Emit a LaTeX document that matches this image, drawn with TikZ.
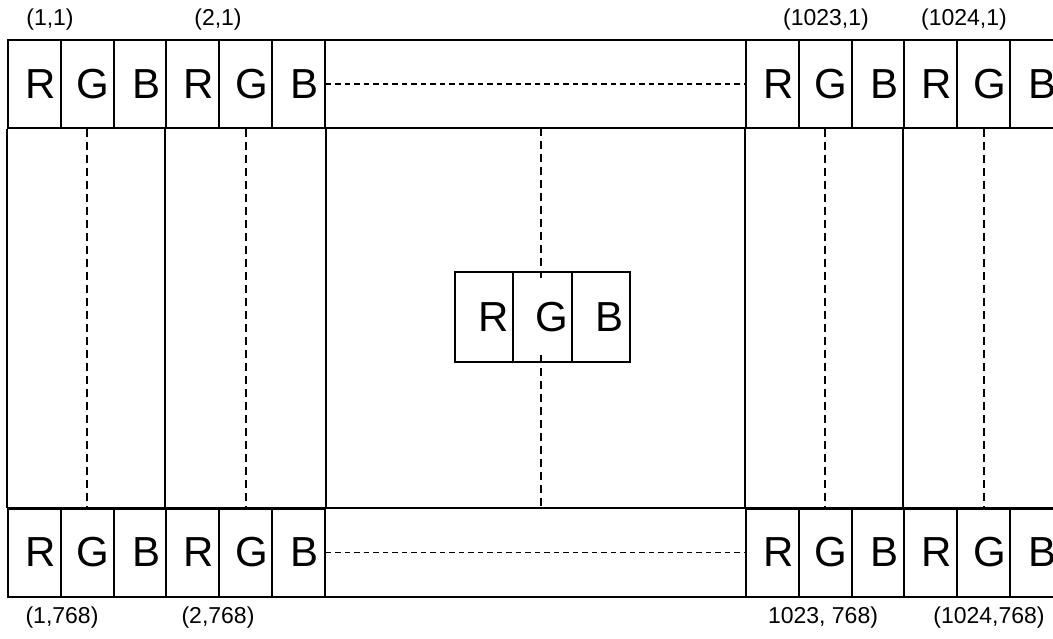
\documentclass[tikz,border=0pt]{standalone}
\usepackage{fontspec}
\setmainfont{Liberation Sans}
\usepackage{tikz}
\usetikzlibrary{positioning}

\begin{document}
\begin{tikzpicture}[
    x=1pt, y=-1pt,
    every node/.style={font=\fontsize{23}{25}\selectfont},
    cell/.style={draw, line width=2pt, inner sep=0pt, minimum width=52.83pt,
                 minimum height=88pt, font=\fontsize{42}{42}\selectfont,
                 execute at begin node={\hspace*{12pt}}},
    midcell/.style={cell, minimum width=58.3pt, minimum height=90pt,
                 execute at begin node={\hspace*{6pt}}},
    frame/.style={line width=2pt},
    vdash/.style={line width=2pt, dash pattern=on 8pt off 5pt},
    hdash/.style={line width=1.2pt, dash pattern=on 5.5pt off 4pt}
]
\clip (0,0) rectangle (1053,639);

% top and bottom bands
\draw[frame] (8,40) rectangle (1070,128);
\draw[frame] (8,508) rectangle (1070,597);

% sub-pixel cells of the first two and last two pixels
\foreach \l [count=\i] in {R,G,B,R,G,B} {
    \node[cell] (t\i) at ({8+52.83*(\i-0.5)}, 84) {\l};
    \node[cell] (b\i) at ({8+52.83*(\i-0.5)}, 552.5) {\l};
}
\foreach \l [count=\i from 7] in {R,G,B,R,G,B} {
    \node[cell] (t\i) at ({746+52.83*(\i-6.5)}, 84) {\l};
    \node[cell] (b\i) at ({746+52.83*(\i-6.5)}, 552.5) {\l};
}

% centre pixel
\node[midcell] (c1) at (484.2, 317) {R};
\node[midcell] (c2) at (542.5, 317) {G};
\node[midcell] (c3) at (600.8, 317) {B};
\coordinate (midtop) at (541, 128);
\coordinate (midbot) at (541, 508);

% coordinates
\node (l11) at (50, 20) {(1,1)};
\node (l21) at (218, 20) {(2,1)};
\node (l10231) at (826, 20) {(1023,1)};
\node (l10241) at (964, 20) {(1024,1)};
\node (l1768) at (62, 618) {(1,768)};
\node (l2768) at (218, 618) {(2,768)};
\node (l1023768) at (823, 618) {1023, 768)};
\node (l1024768) at (989, 618) {(1024,768)};

% pixel columns
\draw[frame] (t1.south west) -- (b1.north west);
\draw[frame] (t4.south west) -- (b4.north west);
\draw[frame] (t6.south east) -- (b6.north east);
\draw[frame] (t7.south west) -- (b7.north west);
\draw[frame] (t10.south west) -- (b10.north west);

% dashed continuations
\draw[vdash] (t2.south) -- (b2.north);
\draw[vdash] (t5.south) -- (b5.north);
\draw[vdash] (t8.south) -- (b8.north);
\draw[vdash] (t11.south) -- (b11.north);
\draw[vdash] (midtop) -- ([yshift=-7pt]midtop |- c2.north);
\draw[vdash] ([yshift=8pt]midbot |- c2.south) -- (midbot);
\draw[hdash] (t6.east) -- (t7.west);
\draw[hdash] (b6.east) -- (b7.west);

\end{tikzpicture}
\end{document}
